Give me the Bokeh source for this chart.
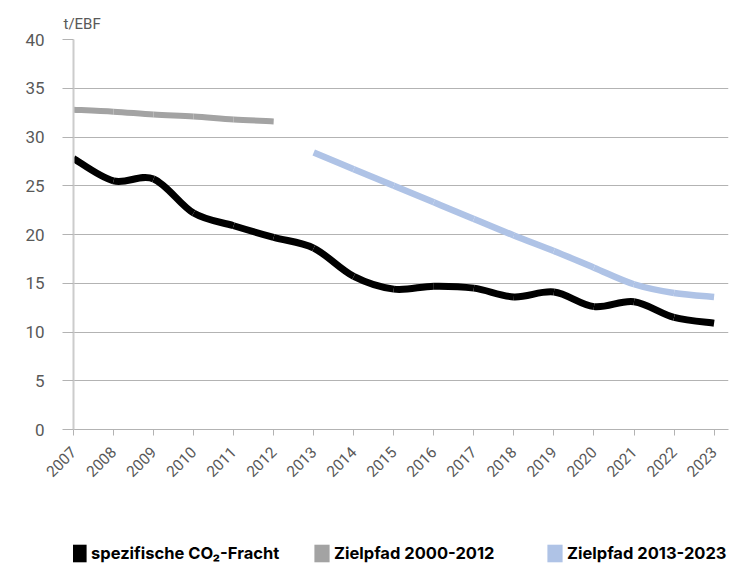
import numpy as np
from bokeh.plotting import figure
from bokeh.layouts import column
from bokeh.models import Range1d, Legend, LegendItem, FixedTicker, ColumnDataSource, Title
from bokeh.embed import file_html
from bokeh.resources import INLINE

# ---- data ----
years_fracht = [2007, 2008, 2009, 2010, 2011, 2012, 2013, 2014, 2015, 2016, 2017, 2018, 2019, 2020, 2021, 2022, 2023]
co2_fracht = [27.8, 25.5, 25.7, 22.2, 20.9, 19.7, 18.6, 15.7, 14.4, 14.7, 14.5, 13.6, 14.1, 12.6, 13.1, 11.5, 10.9]

years_ziel_1 = [2007, 2008, 2009, 2010, 2011, 2012]
ziel_2000_2012 = [32.8, 32.6, 32.3, 32.1, 31.8, 31.6]

years_ziel_2 = [2013, 2014, 2015, 2016, 2017, 2018, 2019, 2020, 2021, 2022, 2023]
ziel_2013_2023 = [28.4, 26.7, 25.0, 23.3, 21.6, 19.9, 18.3, 16.6, 14.9, 14.0, 13.6]

y_ticks = [0, 5, 10, 15, 20, 25, 30, 35, 40]
x_ticks = years_fracht
legend_labels = ["spezifische CO\u2082-Fracht", "Zielpfad 2000-2012", "Zielpfad 2013-2023"]
unit_label = "t/EBF"

FONT = "Roboto"
LEG_FONT = "Inter"
TXT = "#595959"
COL_FRACHT = "#000000"
COL_ZIEL1 = "#a3a3a3"
COL_ZIEL2 = "#afc3e6"


def smooth_source(xs, ys):
    """Bezier segments (Catmull-Rom style smoothing, as in a 'smoothed line')."""
    x = np.asarray(xs, dtype=float)
    y = np.asarray(ys, dtype=float)
    n = len(x)
    d = dict(x0=[], y0=[], x1=[], y1=[], cx0=[], cy0=[], cx1=[], cy1=[])
    for i in range(n - 1):
        pv = max(i - 1, 0)
        nx = min(i + 2, n - 1)
        d["x0"].append(x[i]); d["y0"].append(y[i])
        d["x1"].append(x[i + 1]); d["y1"].append(y[i + 1])
        d["cx0"].append(x[i] + (x[i + 1] - x[pv]) / 6.0)
        d["cy0"].append(y[i] + (y[i + 1] - y[pv]) / 6.0)
        d["cx1"].append(x[i + 1] - (x[nx] - x[i]) / 6.0)
        d["cy1"].append(y[i + 1] - (y[nx] - y[i]) / 6.0)
    return ColumnDataSource(d)


W = 737
H_MAIN = 500
H_LEG = 63
FRAME_LEFT = 73

p = figure(
    width=W, height=H_MAIN,
    x_range=Range1d(2007, 2023.36), y_range=Range1d(0, 40),
    output_backend="svg", toolbar_location=None,
    min_border_left=FRAME_LEFT, min_border_right=9, min_border_top=39, min_border_bottom=H_MAIN - 429,
)
p.outline_line_color = None
p.background_fill_color = "white"
p.border_fill_color = "white"

# grid
p.xgrid.grid_line_color = None
p.ygrid.grid_line_color = "#b3b3b3"
p.ygrid.grid_line_width = 1
p.ygrid.ticker = FixedTicker(ticks=y_ticks)

# y axis
p.yaxis.ticker = FixedTicker(ticks=y_ticks)
p.yaxis.axis_line_color = "#cccccc"
p.yaxis.axis_line_width = 2
p.yaxis.major_tick_line_color = "#b3b3b3"
p.yaxis.major_tick_out = 11
p.yaxis.major_tick_in = 0
p.yaxis.minor_tick_line_color = None
p.yaxis.major_label_standoff = 18
p.yaxis.major_label_text_font = FONT
p.yaxis.major_label_text_font_size = "17px"
p.yaxis.major_label_text_color = TXT

# x axis
p.xaxis.ticker = FixedTicker(ticks=x_ticks)
p.xaxis.axis_line_color = "#b3b3b3"
p.xaxis.axis_line_width = 1
p.xaxis.major_tick_line_color = "#b3b3b3"
p.xaxis.major_tick_out = 6
p.xaxis.major_tick_in = 0
p.xaxis.minor_tick_line_color = None
p.xaxis.major_label_orientation = np.pi / 4
p.xaxis.major_label_standoff = 14
p.xaxis.major_label_text_font = FONT
p.xaxis.major_label_text_font_size = "15.5px"
p.xaxis.major_label_text_color = TXT

# unit label above the y axis
p.add_layout(Title(text=unit_label, align="left", offset=-10, standoff=14,
                   text_font=FONT, text_font_size="15px", text_font_style="normal",
                   text_color=TXT), "above")

# lines (smoothed)
bez = dict(x0="x0", y0="y0", x1="x1", y1="y1", cx0="cx0", cy0="cy0", cx1="cx1", cy1="cy1")
p.bezier(source=smooth_source(years_ziel_1, ziel_2000_2012), line_color=COL_ZIEL1,
         line_width=6, line_cap="butt", **bez)
p.bezier(source=smooth_source(years_ziel_2, ziel_2013_2023), line_color=COL_ZIEL2,
         line_width=6.5, line_cap="butt", **bez)
p.bezier(source=smooth_source(years_fracht, co2_fracht), line_color=COL_FRACHT,
         line_width=7, line_cap="butt", **bez)

# ---- legend strip (its frame is aligned with the chart frame by the column) ----
lg = figure(
    width=W, height=H_LEG, x_range=Range1d(0, 1), y_range=Range1d(0, 1),
    output_backend="svg", toolbar_location=None,
    x_axis_type=None, y_axis_type=None,
    min_border_left=FRAME_LEFT, min_border_right=9, min_border_top=0, min_border_bottom=0,
)
lg.outline_line_color = None
lg.xgrid.visible = False
lg.ygrid.visible = False

swatch_colors = [COL_FRACHT, COL_ZIEL1, COL_ZIEL2]
legend_x = [69, 312, 545]   # page x of each legend entry
for lab, col, lx in zip(legend_labels, swatch_colors, legend_x):
    # swatch renderer: one unit square placed outside the visible (0..1) range
    r = lg.quad(left=[2], right=[3], top=[3], bottom=[2], fill_color=col, line_color=None)
    leg = Legend(
        items=[LegendItem(label=lab, renderers=[r])], location=(lx - FRAME_LEFT, -1),
        glyph_width=19, glyph_height=22, label_standoff=3,
        padding=0, margin=0, border_line_color=None, background_fill_alpha=0,
        label_text_font=LEG_FONT, label_text_font_style="bold", label_text_font_size="16.5px",
        label_text_color="#000000",
    )
    lg.add_layout(leg, "center")

layout = column(p, lg, spacing=0)
open("out.html", "w").write(file_html(layout, INLINE))
